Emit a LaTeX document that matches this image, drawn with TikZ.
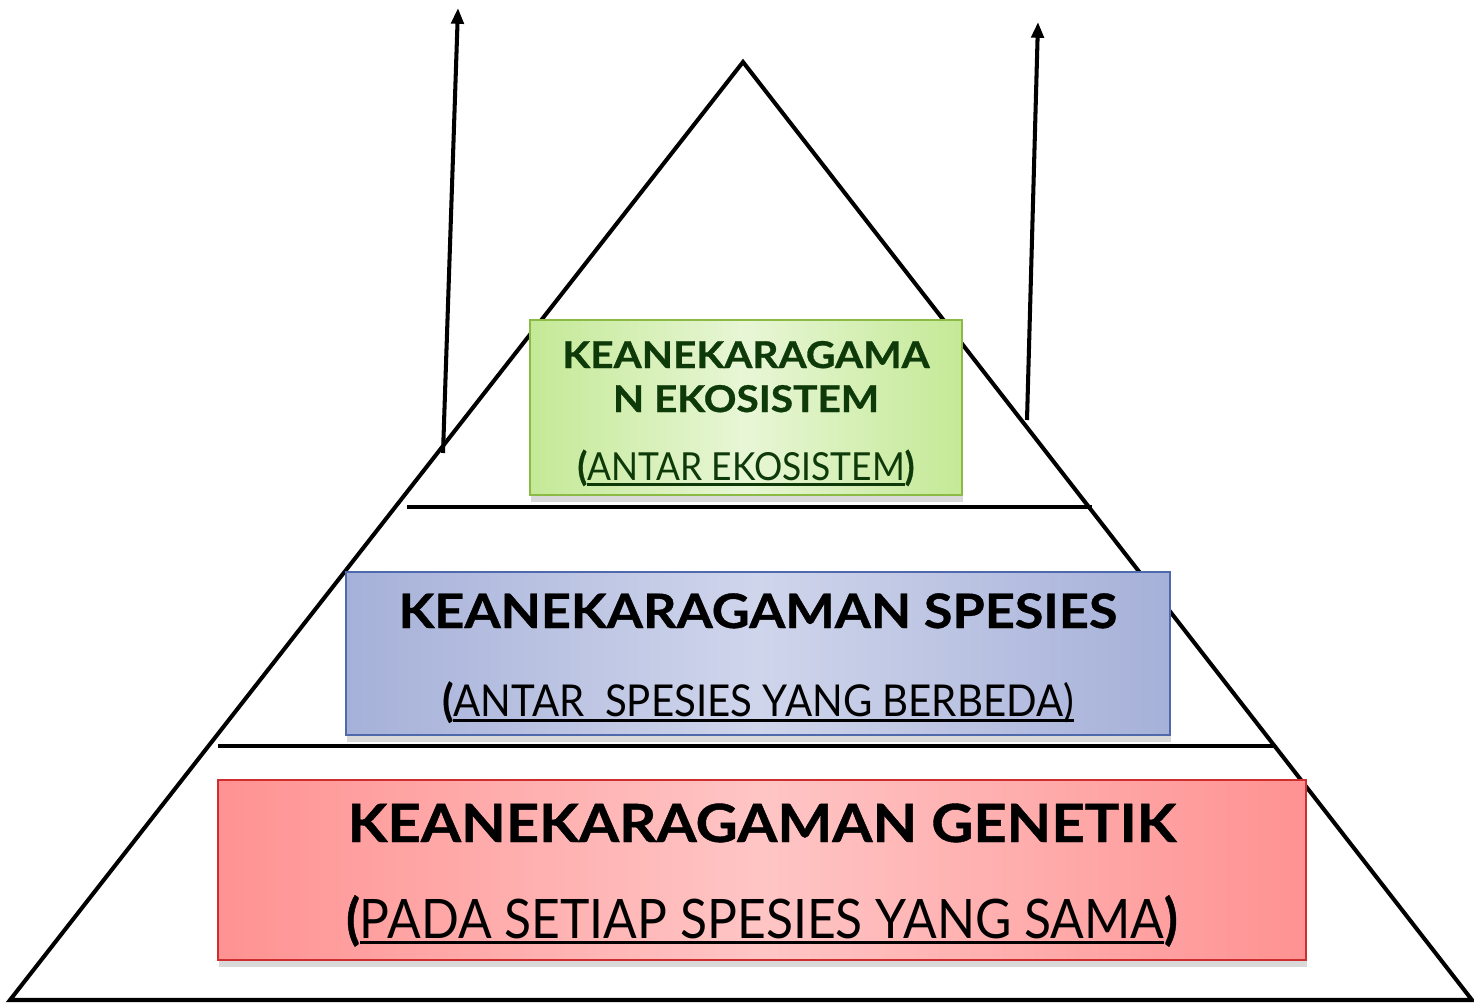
\documentclass[tikz,border=0pt]{standalone}
\usepackage{fontspec}
\setmainfont{Lato}[BoldFeatures={FakeStretch=1.1, FakeBold=0.8}]
\newfontfamily\sempit{Lato}[FakeStretch=0.915, BoldFeatures={FakeBold=0.8}]
\usetikzlibrary{arrows.meta,shadows}

\definecolor{ekoTepi}{HTML}{C4E996}
\definecolor{ekoTengah}{HTML}{E8F6D6}
\definecolor{ekoGaris}{HTML}{8CBB45}
\definecolor{ekoTeks}{HTML}{0E3A0A}
\definecolor{spsTepi}{HTML}{A6B1D9}
\definecolor{spsTengah}{HTML}{CFD5EB}
\definecolor{spsGaris}{HTML}{4E69AC}
\definecolor{genTepi}{HTML}{FF9292}
\definecolor{genTengah}{HTML}{FFC5C5}
\definecolor{genGaris}{HTML}{CF2E2E}

\newcommand\bawahi[1]{\setbox0\hbox{#1}\rlap{\rule[-3.2pt]{\wd0}{1.4pt}}\box0}

\begin{document}
\begin{tikzpicture}[x=0.02cm, y=-0.02cm, line width=2.3pt,
	lapis/.style={draw, line width=1.1pt, inner sep=0pt, drop shadow={shadow xshift=0.5pt, shadow yshift=-4pt, opacity=.3}},
	judul/.style={inner sep=0pt, anchor=base},
	panah/.style={-{Triangle[length=9pt, width=7pt]}}]
	\useasboundingbox (0,0) rectangle (1474,1004);

	% piramida
	\draw (743,62) -- (10,1000) -- (1472,1000) -- cycle;
	\draw[line width=2.6pt] (407,507) -- (1092,507);
	\draw[line width=2.6pt] (218,746) -- (1273,746);

	\coordinate (kiri-a) at (443,453);
	\coordinate (kiri-b) at (458,8);
	\coordinate (kanan-a) at (1027,420);
	\coordinate (kanan-b) at (1038,22);
	\draw[panah] (kiri-a) -- (kiri-b);
	\draw[panah] (kanan-a) -- (kanan-b);

	% ekosistem
	\node (eko) at (746,407.5) [lapis, draw=ekoGaris, left color=ekoTepi, right color=ekoTepi, middle color=ekoTengah, minimum width=8.64cm, minimum height=3.5cm] {};
	\node (eko-1) at (746,368) [judul, text=ekoTeks, font=\fontsize{21}{26}\selectfont\bfseries] {KEANEKARAGAMA};
	\node (eko-2) at (746,412) [judul, text=ekoTeks, font=\fontsize{21}{26}\selectfont\bfseries] {N EKOSISTEM};
	\node (eko-3) at (746,480) [judul, text=ekoTeks, font=\fontsize{22}{26}\selectfont\sempit] {\textbf{(}\bawahi{ANTAR EKOSISTEM}\textbf{)}};

	% spesies
	\node (sps) at (758,653.5) [lapis, draw=spsGaris, left color=spsTepi, right color=spsTepi, middle color=spsTengah, minimum width=16.48cm, minimum height=3.26cm] {};
	\node (sps-1) at (758,628) [judul, font=\fontsize{27}{30}\selectfont\bfseries] {KEANEKARAGAMAN SPESIES};
	\node (sps-2) at (758,716) [judul, font=\fontsize{25}{30}\selectfont\sempit] {\textbf{(}\bawahi{ANTAR\ \ SPESIES YANG BERBEDA)}};

	% genetik
	\node (gen) at (762,870) [lapis, draw=genGaris, left color=genTepi, right color=genTepi, middle color=genTengah, minimum width=21.76cm, minimum height=3.6cm] {};
	\node (gen-1) at (762,842) [judul, font=\fontsize{30}{34}\selectfont\bfseries] {KEANEKARAGAMAN GENETIK};
	\node (gen-2) at (762,938) [judul, font=\fontsize{31}{36}\selectfont\sempit] {\textbf{(}\bawahi{PADA SETIAP SPESIES YANG SAMA}\textbf{)}};
\end{tikzpicture}
\end{document}
